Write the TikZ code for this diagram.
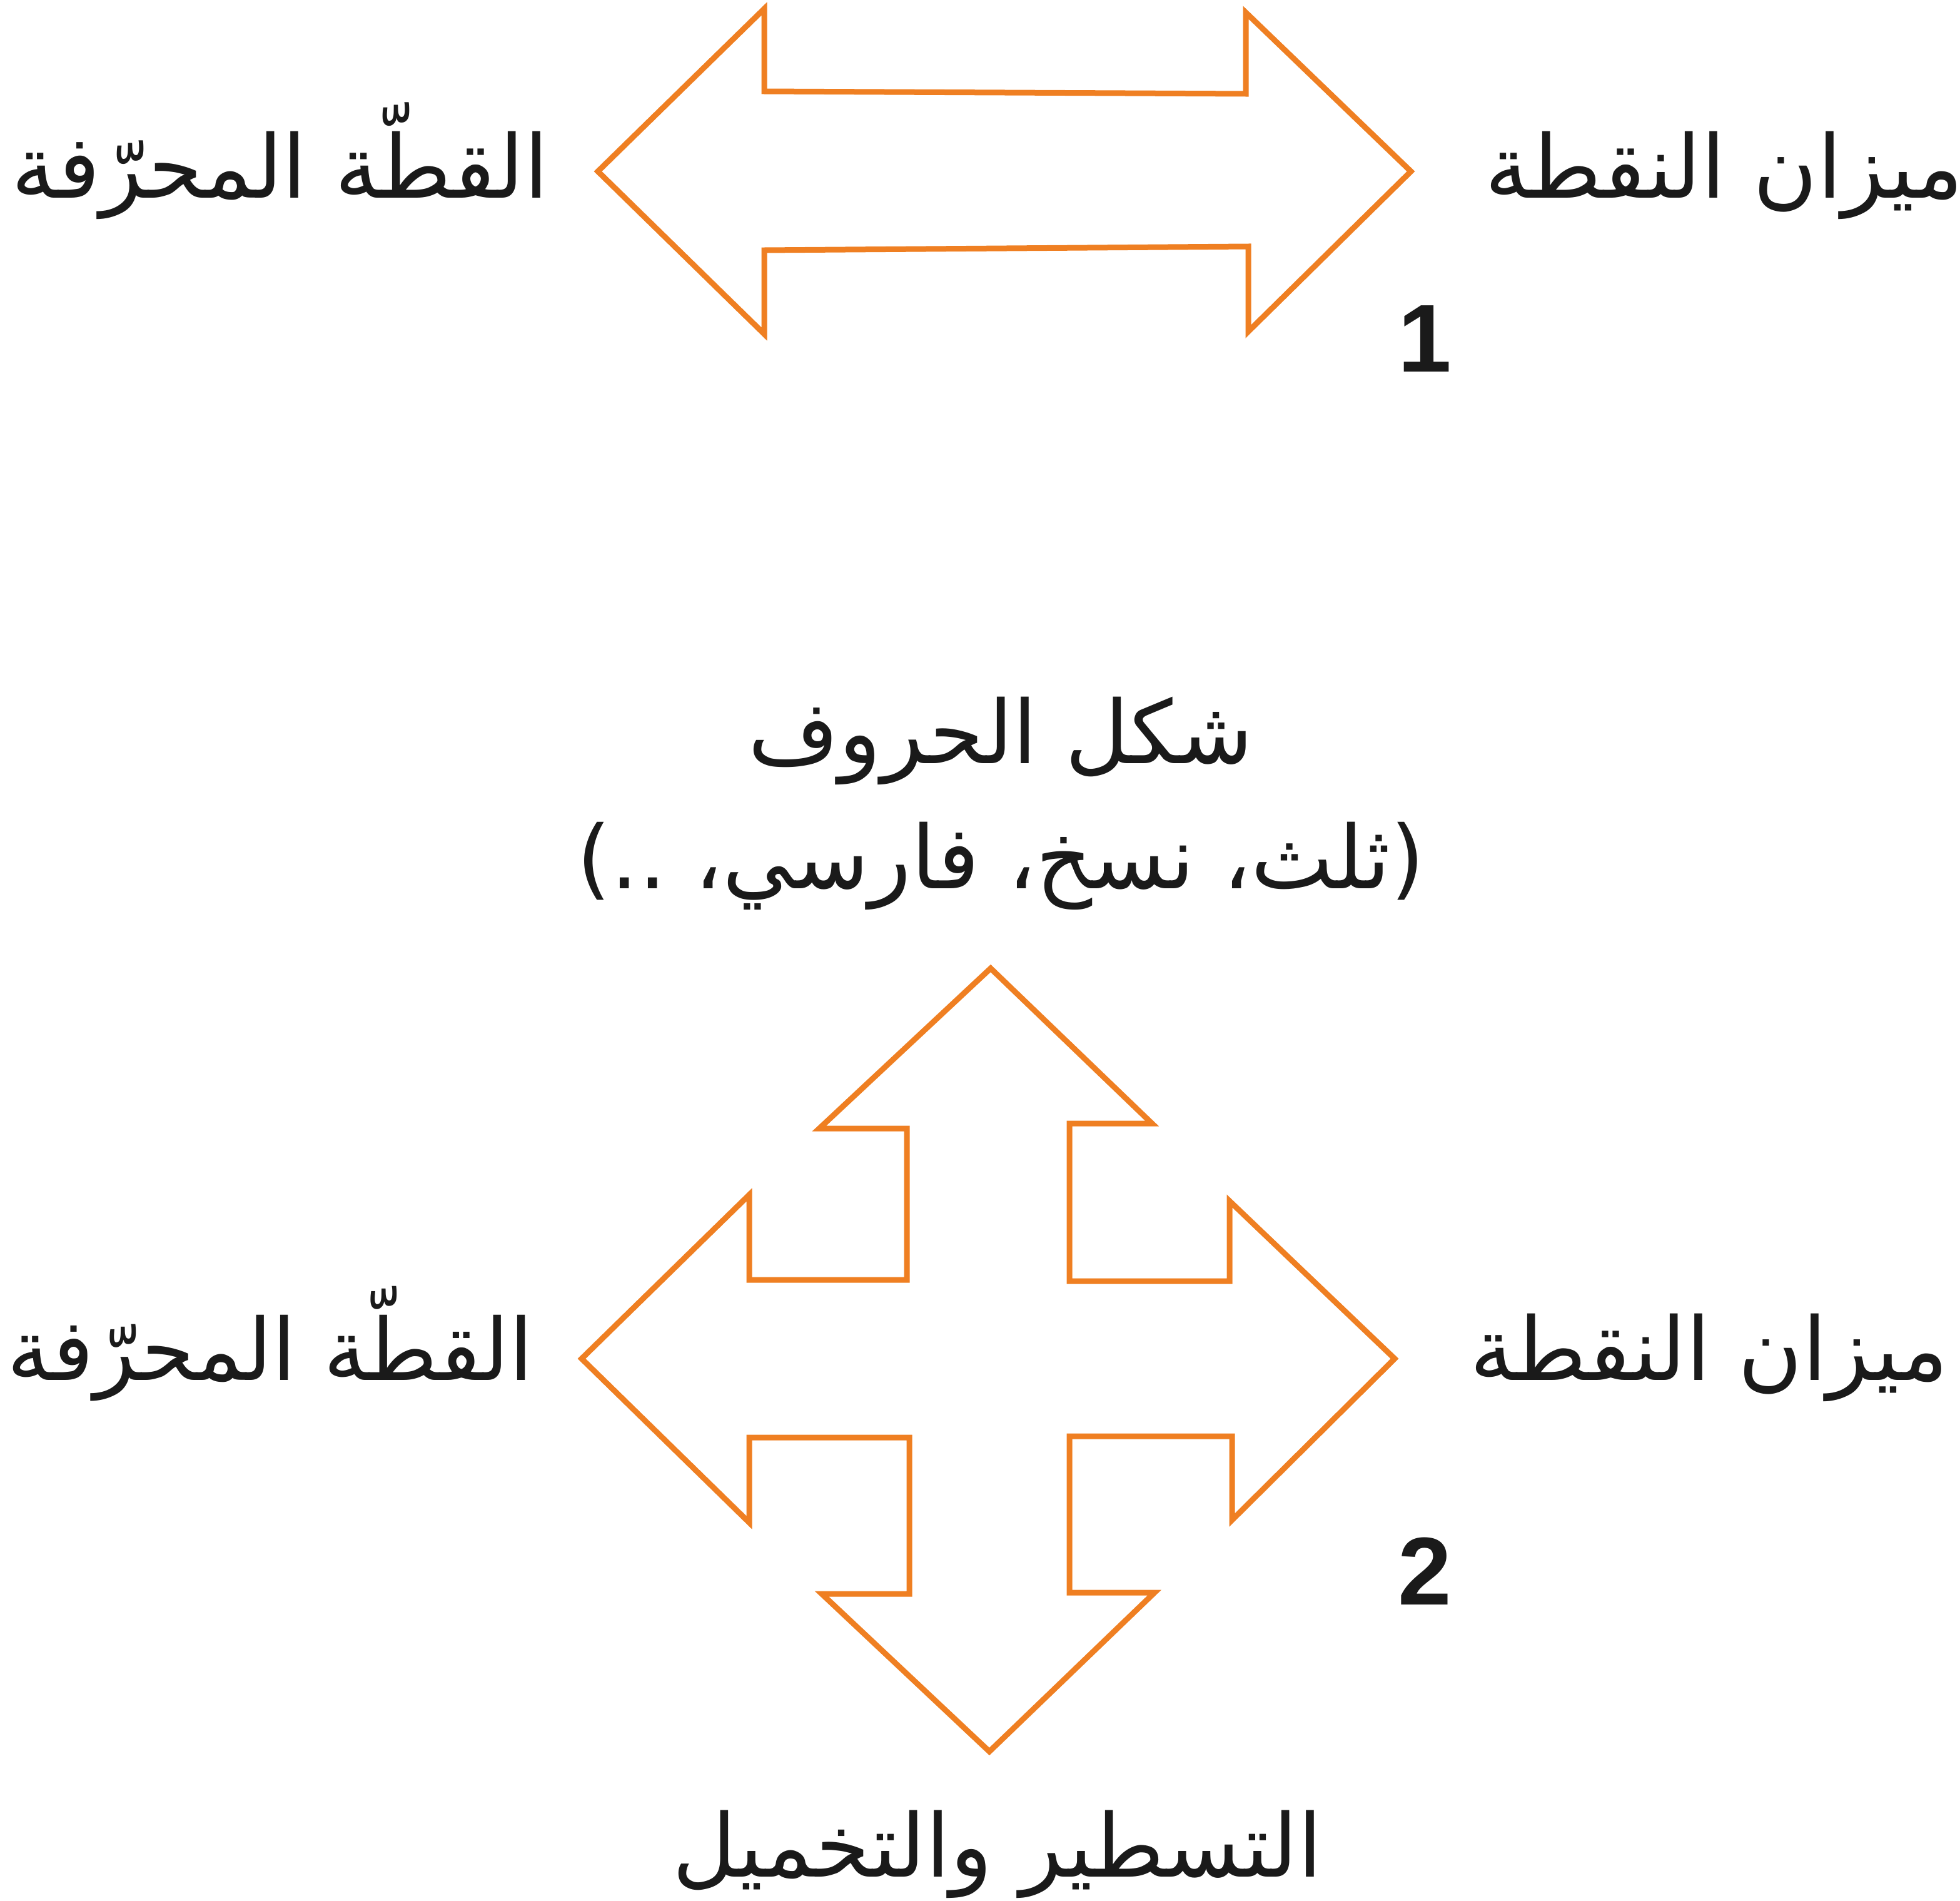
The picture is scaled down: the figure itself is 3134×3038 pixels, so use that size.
\documentclass[tikz,border=0pt]{standalone}
\usepackage{fontspec}
\TeXXeTstate=1
\newfontfamily\arabicfont[Script=Arabic]{DejaVu Sans}
\newfontfamily\numfont{Liberation Sans}
\definecolor{arrorange}{HTML}{EF7F22}
\definecolor{txtblack}{HTML}{1A1A1A}
\begin{document}
\begin{tikzpicture}[x=1pt,y=-1pt,
  arrowshape/.style={draw=arrorange,line width=9pt,line join=miter,miter limit=10},
  lbl/.style={font=\arabicfont\fontsize{140}{168}\selectfont,anchor=base,inner sep=0pt,text=txtblack},
  num/.style={font=\numfont\bfseries\fontsize{154}{180}\selectfont,anchor=base,inner sep=0pt,text=txtblack}]
\useasboundingbox (0,0) rectangle (3134,3038);
% top double arrow
\draw[arrowshape] (956,274) -- (1222,14) -- (1222,146) -- (1992,150) -- (1992,20) -- (2256,274)
  -- (1996,530) -- (1996,394) -- (1222,400) -- (1222,534) -- cycle;
% four-way arrow
\draw[arrowshape] (1584,1548) -- (1842,1796) -- (1710,1796) -- (1710,2048) -- (1966,2048) -- (1966,1920)
  -- (2230,2172) -- (1970,2430) -- (1970,2296) -- (1710,2296) -- (1710,2546) -- (1846,2546)
  -- (1582,2800) -- (1314,2548) -- (1454,2548) -- (1454,2298) -- (1198,2298) -- (1198,2434)
  -- (930,2172) -- (1198,1910) -- (1198,2046) -- (1450,2046) -- (1450,1804) -- (1310,1804) -- cycle;
% labels
\node[lbl] (tl) at (448,316) {\beginR القطّة المحرّفة\endR};
\node[lbl] (tr) at (2757,316) {\beginR ميزان النقطة\endR};
\node[num] (n1) at (2278,594) {1};
\node[lbl] (mid1) at (1600,1220) {\beginR شكل الحروف\endR};
\node[lbl] (mid2) at (1600,1420) {\beginR (ثلث، نسخ، فارسي، ..)\endR};
\node[lbl,scale=0.98] (bl) at (432,2206) {\beginR القطّة المحرّفة\endR};
\node[lbl] (br) at (2733,2206) {\beginR ميزان النقطة\endR};
\node[num] (n2) at (2278,2565) {2};
\node[lbl] (bot) at (1595,3000) {\beginR التسطير والتخميل\endR};
\end{tikzpicture}
\end{document}
